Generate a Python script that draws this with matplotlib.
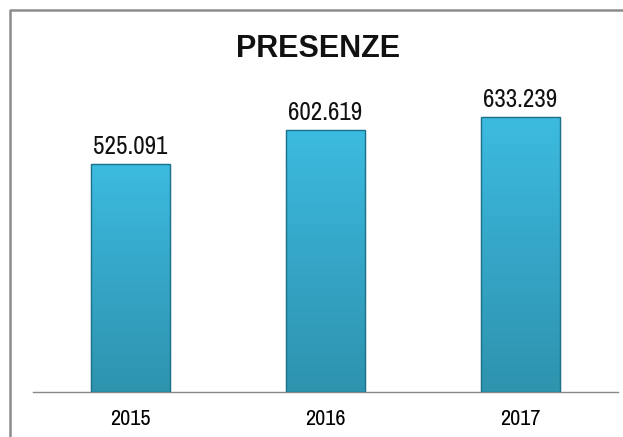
import matplotlib.pyplot as plt
import matplotlib.patches as mpatches
from matplotlib.colors import LinearSegmentedColormap
from matplotlib import font_manager
import numpy as np

# condensed face if present
fl = font_manager.fontManager.ttflist
narrow = sorted({f.name for f in fl if 'Narrow' in f.name or 'Condensed' in f.name})
plt.rcParams['font.family'] = narrow[:1] + ['Liberation Sans', 'DejaVu Sans']

# data
anni = ['2015', '2016', '2017']
presenze = [525091, 602619, 633239]
etichette = ['525.091', '602.619', '633.239']

W, H = 623, 437
fig = plt.figure(figsize=(W / 100, H / 100), dpi=100)

# outer frame (only top and left edges visible)
fig.add_artist(plt.Line2D([10 / W, 10 / W, 1.0], [0, 1 - 10 / H, 1 - 10 / H],
                          transform=fig.transFigure, color='#8c8c8c', linewidth=1.8))

ax = fig.add_axes([33 / W, (H - 392) / H, 585 / W, 382 / H])
x = np.arange(len(anni))
bars = ax.bar(x, presenze, width=0.405, color='#34a9cc', edgecolor='#1f7c96',
              linewidth=0.8, zorder=2)

# vertical gradient inside each bar
grad = np.linspace(0, 1, 256).reshape(-1, 1)
cmap = LinearSegmentedColormap.from_list('b', ['#2e93ae', '#35a6c7', '#3cbbe0'])
for b in bars:
    x0, y0 = b.get_x(), b.get_y()
    im = ax.imshow(grad, extent=[x0, x0 + b.get_width(), y0, y0 + b.get_height()],
                   origin='lower', aspect='auto', cmap=cmap, zorder=3)
    im.set_clip_path(b)
    ax.add_patch(mpatches.Rectangle((x0, y0), b.get_width(), b.get_height(),
                                    fill=False, edgecolor='#1d7189', linewidth=1.0, zorder=4))

for xi, v, t in zip(x, presenze, etichette):
    ax.text(xi, v + 15000, t, ha='center', va='bottom', fontsize=18, color='#111111')

ax.set_xlim(-0.5, 2.5)
ax.set_ylim(0, 880000)
ax.set_xticks(x)
ax.set_xticklabels(anni, fontsize=16)
ax.tick_params(axis='x', length=0, pad=12)
ax.set_yticks([])
for s in ['top', 'right', 'left']:
    ax.spines[s].set_visible(False)
ax.spines['bottom'].set_color('#888888')
ax.spines['bottom'].set_linewidth(1.0)

fig.text(318 / W, 1 - 49 / H, 'PRESENZE', ha='center', va='center',
         fontsize=22, fontweight='bold', color='#111111',
         family=['Liberation Sans', 'DejaVu Sans'])

fig.savefig('out.png', dpi=100)
